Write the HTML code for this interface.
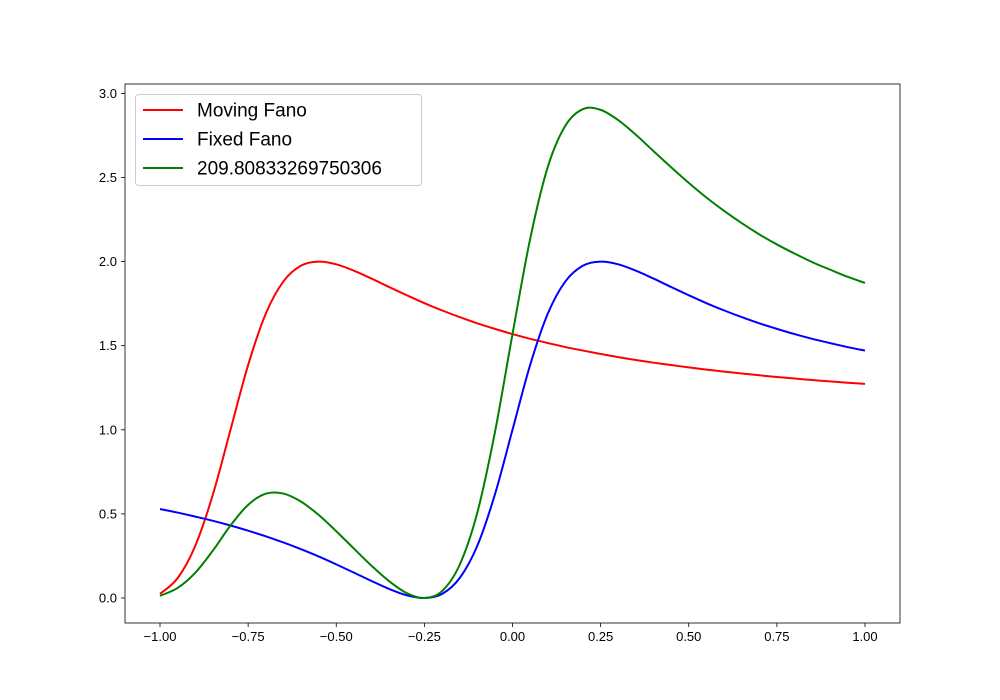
<!DOCTYPE html>
<html><head><meta charset="utf-8"><style>
body{margin:0;background:#fff;}
svg{display:block;font-family:"Liberation Sans","DejaVu Sans",sans-serif;}
</style></head><body>
<svg id="chart" width="1000" height="700"></svg>
<script>
const xs = [];
for (let i = 0; i <= 40; i++) xs.push(-1 + i * 0.05);
const movingFano = [0.024,0.118,0.310,0.615,1.0,1.385,1.690,1.882,1.976,2.0,1.984,1.946,1.899,1.849,1.8,1.753,1.710,1.670,1.633,1.6,1.569,1.541,1.516,1.492,1.471,1.451,1.432,1.415,1.399,1.385,1.371,1.358,1.346,1.335,1.324,1.314,1.305,1.296,1.288,1.280,1.273];
const fixedFano = [0.529,0.508,0.484,0.459,0.431,0.4,0.367,0.330,0.290,0.247,0.2,0.151,0.101,0.054,0.016,0,0.024,0.118,0.310,0.615,1.0,1.385,1.690,1.882,1.976,2.0,1.984,1.946,1.899,1.849,1.8,1.753,1.710,1.670,1.633,1.6,1.569,1.541,1.516,1.492,1.471];
const product = [0.013,0.060,0.150,0.282,0.431,0.554,0.620,0.621,0.573,0.494,0.397,0.294,0.192,0.100,0.029,0,0.041,0.197,0.506,0.984,1.569,2.134,2.562,2.808,2.907,2.902,2.841,2.754,2.657,2.561,2.468,2.381,2.302,2.229,2.162,2.102,2.048,1.997,1.953,1.910,1.873];
const xTicks = [-1.0,-0.75,-0.5,-0.25,0,0.25,0.5,0.75,1.0];
const xTickLabels = ["\u22121.00","\u22120.75","\u22120.50","\u22120.25","0.00","0.25","0.50","0.75","1.00"];
const yTicks = [0,0.5,1.0,1.5,2.0,2.5,3.0];
const yTickLabels = ["0.0","0.5","1.0","1.5","2.0","2.5","3.0"];
const seriesNames = ["Moving Fano","Fixed Fano","209.80833269750306"];

const NS = "http://www.w3.org/2000/svg";
const svg = document.getElementById("chart");
const L = 125, R = 900, T = 84, B = 623;
const sx = v => 160 + (v + 1) / 2 * 705;
const sy = v => 598 - v * 168.2;
function mk(tag, attrs, parent) {
  const e = document.createElementNS(NS, tag);
  for (const k in attrs) e.setAttribute(k, attrs[k]);
  (parent || svg).appendChild(e);
  return e;
}
function smoothPath(ys) {
  const p = xs.map((x, i) => [sx(x), sy(ys[i])]);
  let d = "M" + p[0][0].toFixed(2) + "," + p[0][1].toFixed(2);
  for (let i = 0; i < p.length - 1; i++) {
    const p0 = p[Math.max(0, i - 1)], p1 = p[i], p2 = p[i + 1], p3 = p[Math.min(p.length - 1, i + 2)];
    const c1x = p1[0] + (p2[0] - p0[0]) / 6, c1y = p1[1] + (p2[1] - p0[1]) / 6;
    const c2x = p2[0] - (p3[0] - p1[0]) / 6, c2y = p2[1] - (p3[1] - p1[1]) / 6;
    d += "C" + c1x.toFixed(2) + "," + c1y.toFixed(2) + " " + c2x.toFixed(2) + "," + c2y.toFixed(2) + " " + p2[0].toFixed(2) + "," + p2[1].toFixed(2);
  }
  return d;
}

// axes ticks
xTicks.forEach((v, i) => {
  const t = mk("line", {x1: sx(v), x2: sx(v), y1: B, y2: B + 4, stroke: "#000", "stroke-width": 0.8});
  
  
  const tx = mk("text", {x: sx(v), y: B + 18, "text-anchor": "middle", "font-size": 13, fill: "#000"});
  tx.textContent = xTickLabels[i];
  
  
});
yTicks.forEach((v, i) => {
  const t = mk("line", {x1: L - 4, x2: L, y1: sy(v), y2: sy(v), stroke: "#000", "stroke-width": 0.8});
  
  
  const tx = mk("text", {x: L - 8, y: sy(v) + 4.5, "text-anchor": "end", "font-size": 13, fill: "#000"});
  tx.textContent = yTickLabels[i];
  
  
});

const colors = ["#ff0000", "#0000ff", "#008000"];
[movingFano, fixedFano, product].forEach((ys, i) => {
  const p = mk("path", {d: smoothPath(ys), fill: "none", stroke: colors[i], "stroke-width": 2, "stroke-linejoin": "round"});
  
  
});

const frame = mk("rect", {x: L, y: T, width: R - L, height: B - T, fill: "none", stroke: "#000", "stroke-width": 0.8});



// legend
const lg = mk("g", {});


mk("rect", {x: 135.5, y: 94.5, width: 286, height: 91, rx: 3, fill: "#fff", "fill-opacity": 0.8, stroke: "#ccc", "stroke-width": 1}, lg);
seriesNames.forEach((n, i) => {
  const y = 110 + i * 29;
  const ln = mk("line", {x1: 143, x2: 183, y1: y, y2: y, stroke: colors[i], "stroke-width": 2}, lg);
  
  
  const t = mk("text", {x: 197, y: y + 6.5, "font-size": 19, fill: "#000"}, lg);
  t.textContent = n;
  
  
});
</script>
</body></html>
